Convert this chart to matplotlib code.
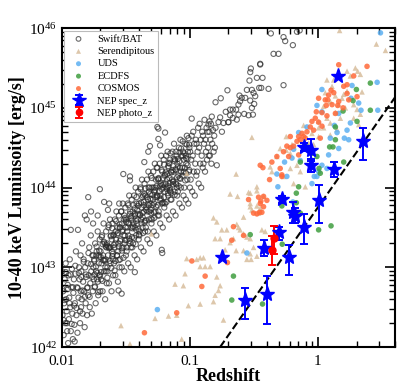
import numpy as np
import matplotlib
matplotlib.use('Agg')
import matplotlib.pyplot as plt
from matplotlib.ticker import LogLocator, NullFormatter

plt.rcParams['font.family'] = ['Liberation Serif', 'DejaVu Serif']
plt.rcParams['mathtext.fontset'] = 'stix'

# Swift/BAT sample, (log10 z, log10 L)
swift_bat = [
    (-1.998, 42.95), (-1.995, 42.4), (-1.99, 42.7), (-1.986, 42.15), (-1.982, 42.55), (-1.978, 42.85),
    (-1.973, 42.3), (-1.97, 43.05), (-1.966, 42.6), (-1.962, 42.45), (-1.958, 42.2), (-1.954, 42.78),
    (-1.951, 42.05), (-1.948, 42.9), (-1.945, 42.35), (-1.942, 42.62), (-1.938, 43.1), (-1.934, 42.5),
    (-1.93, 42.2), (-1.93, 43.47), (-1.926, 42.75), (-1.922, 42.98), (-1.918, 42.42), (-1.914, 42.1),
    (-1.91, 42.68), (-1.906, 42.85), (-1.902, 42.28), (-1.9, 42.07), (-1.898, 42.55), (-1.894, 42.92),
    (-1.89, 43.2), (-1.886, 42.4), (-1.882, 42.75), (-1.878, 42.18), (-1.874, 43.47), (-1.87, 42.62),
    (-1.866, 43.0), (-1.862, 42.85), (-1.858, 42.3), (-1.854, 43.15), (-1.85, 42.5), (-1.852, 42.7),
    (-1.848, 42.95), (-1.845, 42.6), (-1.842, 43.3), (-1.838, 42.42), (-1.834, 42.82), (-1.83, 43.1),
    (-1.826, 42.7), (-1.822, 42.25), (-1.818, 43.0), (-1.814, 42.55), (-1.81, 42.88), (-1.806, 43.6),
    (-1.803, 42.4), (-1.8, 42.75), (-1.794, 43.88), (-1.82, 43.65), (-1.798, 43.05), (-1.794, 42.65),
    (-1.79, 42.9), (-1.786, 43.25), (-1.782, 42.5), (-1.778, 42.8), (-1.774, 43.4), (-1.77, 42.95),
    (-1.766, 42.42), (-1.762, 43.15), (-1.758, 42.7), (-1.754, 43.0), (-1.75, 42.85), (-1.756, 43.55),
    (-1.772, 43.7), (-1.748, 43.1), (-1.744, 42.75), (-1.74, 43.3), (-1.736, 42.55), (-1.732, 42.95),
    (-1.728, 43.2), (-1.724, 42.85), (-1.72, 43.45), (-1.716, 42.65), (-1.712, 43.05), (-1.708, 42.9),
    (-1.704, 43.35), (-1.703, 43.98), (-1.7, 42.7), (-1.72, 43.65), (-1.71, 43.15), (-1.698, 43.2),
    (-1.694, 42.85), (-1.69, 43.05), (-1.686, 43.4), (-1.682, 42.7), (-1.678, 43.15), (-1.674, 43.55),
    (-1.67, 42.95), (-1.666, 43.3), (-1.662, 42.6), (-1.658, 43.1), (-1.654, 43.45), (-1.65, 42.8),
    (-1.67, 43.82), (-1.66, 43.0), (-1.652, 43.25), (-1.648, 43.3), (-1.644, 42.95), (-1.64, 43.15),
    (-1.636, 43.5), (-1.632, 42.8), (-1.628, 43.25), (-1.624, 43.6), (-1.62, 43.05), (-1.616, 43.4),
    (-1.612, 42.7), (-1.608, 43.2), (-1.604, 43.55), (-1.6, 42.9), (-1.63, 43.8), (-1.61, 43.35),
    (-1.602, 43.1), (-1.64, 43.72), (-1.598, 43.4), (-1.594, 43.05), (-1.59, 43.25), (-1.586, 43.6),
    (-1.582, 42.9), (-1.578, 43.35), (-1.574, 43.7), (-1.57, 43.15), (-1.566, 43.5), (-1.562, 42.82),
    (-1.558, 43.3), (-1.557, 42.71), (-1.554, 43.65), (-1.55, 43.0), (-1.58, 43.45), (-1.56, 43.2),
    (-1.552, 43.8), (-1.548, 43.5), (-1.544, 43.1), (-1.54, 43.35), (-1.536, 43.7), (-1.533, 42.67),
    (-1.532, 43.0), (-1.528, 43.45), (-1.524, 43.8), (-1.52, 43.25), (-1.52, 44.17), (-1.516, 43.6),
    (-1.512, 42.95), (-1.508, 43.4), (-1.504, 43.75), (-1.5, 43.15), (-1.53, 43.55), (-1.51, 43.3),
    (-1.502, 43.5), (-1.498, 43.6), (-1.494, 43.2), (-1.49, 43.45), (-1.486, 43.8), (-1.482, 43.05),
    (-1.478, 43.55), (-1.474, 43.9), (-1.47, 43.3), (-1.468, 44.14), (-1.468, 44.09), (-1.466, 43.7),
    (-1.462, 43.0), (-1.458, 43.5), (-1.454, 43.85), (-1.45, 43.25), (-1.48, 43.4), (-1.46, 43.62),
    (-1.452, 43.38), (-1.448, 43.7), (-1.444, 43.3), (-1.44, 43.55), (-1.436, 43.9), (-1.43, 42.94),
    (-1.432, 43.15), (-1.428, 43.65), (-1.424, 44.0), (-1.42, 43.4), (-1.416, 43.8), (-1.412, 43.1),
    (-1.408, 43.6), (-1.404, 43.95), (-1.4, 43.35), (-1.43, 43.5), (-1.41, 43.72), (-1.402, 43.48),
    (-1.42, 43.58), (-1.398, 43.8), (-1.394, 43.4), (-1.39, 43.65), (-1.386, 44.0), (-1.382, 43.25),
    (-1.378, 43.75), (-1.374, 44.1), (-1.37, 43.5), (-1.366, 43.9), (-1.362, 43.2), (-1.358, 43.7),
    (-1.356, 44.32), (-1.354, 44.05), (-1.35, 43.45), (-1.38, 43.6), (-1.36, 43.82), (-1.352, 43.58),
    (-1.37, 43.68), (-1.348, 43.9), (-1.344, 43.5), (-1.34, 43.75), (-1.336, 44.1), (-1.332, 43.35),
    (-1.328, 43.85), (-1.325, 44.45), (-1.324, 44.2), (-1.32, 43.6), (-1.316, 44.0), (-1.312, 44.52),
    (-1.312, 43.3), (-1.308, 43.8), (-1.304, 44.15), (-1.3, 43.55), (-1.33, 43.7), (-1.31, 43.92),
    (-1.302, 43.68), (-1.32, 43.78), (-1.298, 44.0), (-1.294, 43.6), (-1.29, 43.85), (-1.286, 44.2),
    (-1.282, 43.45), (-1.278, 43.95), (-1.274, 44.3), (-1.27, 43.7), (-1.266, 44.1), (-1.262, 43.4),
    (-1.258, 43.9), (-1.254, 44.76), (-1.254, 44.25), (-1.25, 43.65), (-1.28, 43.8), (-1.26, 44.02),
    (-1.252, 43.78), (-1.27, 43.88), (-1.248, 44.1), (-1.246, 44.74), (-1.246, 44.61), (-1.244, 43.7),
    (-1.24, 43.95), (-1.236, 44.3), (-1.233, 44.53), (-1.232, 43.55), (-1.228, 44.05), (-1.224, 44.4),
    (-1.22, 43.22), (-1.22, 43.8), (-1.216, 43.18), (-1.216, 44.2), (-1.212, 43.5), (-1.208, 44.0),
    (-1.204, 44.35), (-1.2, 43.75), (-1.23, 43.9), (-1.21, 44.12), (-1.202, 43.88), (-1.22, 43.98),
    (-1.198, 44.15), (-1.194, 44.69), (-1.194, 43.8), (-1.19, 44.05), (-1.186, 44.4), (-1.182, 43.65),
    (-1.178, 44.1), (-1.174, 44.45), (-1.17, 43.9), (-1.166, 44.25), (-1.16, 44.3), (-1.162, 43.6),
    (-1.158, 44.0), (-1.154, 44.35), (-1.15, 43.85), (-1.18, 43.98), (-1.16, 44.12), (-1.152, 43.95),
    (-1.17, 44.02), (-1.148, 44.2), (-1.144, 43.85), (-1.14, 44.1), (-1.136, 44.45), (-1.132, 43.7),
    (-1.128, 44.2), (-1.124, 44.55), (-1.12, 43.95), (-1.116, 44.35), (-1.112, 43.65), (-1.108, 44.05),
    (-1.104, 44.4), (-1.1, 43.9), (-1.13, 44.08), (-1.11, 44.22), (-1.102, 44.0), (-1.098, 44.3),
    (-1.094, 43.95), (-1.09, 44.15), (-1.086, 44.5), (-1.082, 43.8), (-1.078, 44.25), (-1.074, 44.6),
    (-1.07, 44.0), (-1.066, 44.4), (-1.062, 43.75), (-1.058, 44.15), (-1.054, 44.45), (-1.05, 43.9),
    (-1.08, 44.12), (-1.048, 44.35), (-1.044, 44.0), (-1.04, 44.25), (-1.036, 44.55), (-1.032, 43.85),
    (-1.028, 44.3), (-1.024, 44.65), (-1.02, 44.1), (-1.016, 44.45), (-1.012, 43.8), (-1.008, 44.2),
    (-1.004, 44.5), (-1.0, 44.0), (-1.03, 44.18), (-0.998, 44.45), (-0.994, 44.1), (-0.99, 44.35),
    (-0.986, 44.865), (-0.986, 44.65), (-0.982, 43.95), (-0.978, 44.4), (-0.974, 44.7), (-0.97, 44.2),
    (-0.966, 44.55), (-0.962, 43.9), (-0.958, 44.3), (-0.954, 44.6), (-0.95, 44.15), (-0.948, 44.55),
    (-0.944, 44.2), (-0.94, 44.45), (-0.936, 44.75), (-0.932, 44.05), (-0.928, 44.5), (-0.924, 44.8),
    (-0.92, 44.3), (-0.916, 44.6), (-0.912, 44.0), (-0.908, 44.4), (-0.904, 44.7), (-0.9, 44.25),
    (-0.898, 44.65), (-0.894, 44.3), (-0.89, 44.55), (-0.886, 44.85), (-0.882, 44.2), (-0.878, 44.6),
    (-0.874, 44.45), (-0.87, 44.75), (-0.866, 44.35), (-0.862, 44.7), (-0.858, 44.5), (-0.855, 44.79),
    (-0.852, 44.4), (-0.847, 44.83), (-0.848, 44.7), (-0.844, 44.4), (-0.84, 44.6), (-0.836, 44.8),
    (-0.832, 44.3), (-0.829, 44.89), (-0.826, 44.55), (-0.82, 44.72), (-0.815, 44.45), (-0.81, 44.65),
    (-0.805, 44.5), (-0.8, 44.75), (-0.8, 45.07), (-0.79, 44.28), (-0.777, 44.82), (-0.764, 44.88),
    (-0.759, 45.12), (-0.75, 44.7), (-0.738, 44.81), (-0.72, 44.95), (-0.707, 45.22), (-0.7, 44.82),
    (-0.699, 44.82), (-0.686, 44.978), (-0.665, 44.978), (-0.639, 44.978), (-0.516, 44.999),
    (-0.508, 44.915), (-0.686, 44.907), (-0.621, 44.915), (-0.576, 44.924), (-0.542, 44.907),
    (-0.665, 44.873), (-0.634, 44.852), (-0.613, 45.154), (-0.595, 45.125), (-0.608, 45.083),
    (-0.568, 45.125), (-0.49, 45.146), (-0.621, 45.041), (-0.529, 45.091), (-0.498, 45.049),
    (-0.555, 45.225), (-0.516, 45.225), (-0.503, 45.187), (-0.459, 45.25), (-0.443, 45.25),
    (-0.386, 45.238), (-0.535, 45.342), (-0.477, 45.376), (-0.433, 45.376), (-0.529, 45.447),
    (-0.524, 45.493), (-0.451, 45.552), (-0.451, 45.543), (-0.347, 45.677), (-0.308, 45.677),
    (-0.269, 45.284), (-0.368, 45.933), (-0.269, 45.887), (-0.256, 45.837), (-0.196, 45.786),
    (-0.164, 45.954), (-0.143, 45.971),
    # denser core of the band
    (-1.747, 43.08), (-1.741, 42.76), (-1.733, 43.01), (-1.728, 43.26), (-1.722, 42.93), (-1.715, 42.69),
    (-1.709, 43.21), (-1.702, 42.90), (-1.696, 43.13), (-1.689, 43.38), (-1.683, 42.83), (-1.677, 43.09),
    (-1.671, 43.32), (-1.664, 43.08), (-1.658, 42.95), (-1.651, 43.28), (-1.645, 42.87), (-1.639, 43.26),
    (-1.633, 43.53), (-1.626, 43.08), (-1.62, 43.25), (-1.614, 42.99), (-1.607, 43.49), (-1.601, 43.17),
    (-1.595, 43.41), (-1.588, 42.96), (-1.582, 43.30), (-1.576, 43.58), (-1.569, 43.15), (-1.563, 43.43),
    (-1.556, 43.09), (-1.55, 43.54), (-1.544, 43.33), (-1.537, 43.70), (-1.531, 43.21), (-1.525, 43.47),
    (-1.518, 43.12), (-1.512, 43.65), (-1.506, 43.34), (-1.499, 43.57), (-1.493, 43.25), (-1.487, 43.50),
    (-1.48, 43.78), (-1.474, 43.36), (-1.468, 43.67), (-1.461, 43.25), (-1.455, 43.59), (-1.449, 43.49),
    (-1.442, 43.78), (-1.436, 43.37), (-1.43, 43.67), (-1.423, 43.29), (-1.417, 43.88), (-1.411, 43.55),
    (-1.404, 43.77), (-1.398, 43.41), (-1.392, 43.66), (-1.385, 43.98), (-1.379, 43.55), (-1.373, 43.88),
    (-1.366, 43.43), (-1.36, 43.78), (-1.354, 43.56), (-1.347, 43.99), (-1.341, 43.72), (-1.335, 43.88),
    (-1.328, 43.45), (-1.322, 44.00), (-1.316, 43.70), (-1.309, 43.86), (-1.303, 43.61), (-1.297, 44.12),
    (-1.29, 43.78), (-1.284, 44.00), (-1.278, 43.62), (-1.271, 43.97), (-1.265, 43.76), (-1.259, 44.25),
    (-1.252, 43.90), (-1.246, 44.11), (-1.24, 43.65), (-1.233, 44.02), (-1.227, 43.86), (-1.221, 44.22),
    (-1.214, 43.81), (-1.208, 44.04), (-1.202, 44.29), (-1.195, 43.95), (-1.189, 44.19), (-1.183, 43.82),
    (-1.176, 44.17), (-1.17, 43.93), (-1.164, 44.31), (-1.157, 44.06), (-1.151, 44.43), (-1.145, 43.93),
    (-1.138, 44.22), (-1.132, 44.04), (-1.126, 44.36), (-1.119, 43.91), (-1.113, 44.23), (-1.107, 44.45),
    (-1.1, 44.13), (-1.094, 44.36), (-1.088, 44.02), (-1.081, 44.33), (-1.075, 44.11), (-1.069, 44.49),
    (-1.062, 44.25), (-1.056, 44.58), (-1.05, 44.19), (-1.043, 44.43), (-1.037, 44.09), (-1.031, 44.37),
    (-1.024, 44.54), (-1.018, 44.28), (-1.011, 44.62), (-1.005, 44.22),
    (-1.744, 42.91), (-1.731, 43.15), (-1.719, 42.82), (-1.706, 43.13), (-1.694, 42.94), (-1.681, 43.29),
    (-1.669, 43.09), (-1.656, 43.26), (-1.644, 43.00), (-1.631, 43.24), (-1.619, 43.39), (-1.606, 43.14),
    (-1.594, 43.28), (-1.581, 43.08), (-1.569, 43.41), (-1.556, 43.26), (-1.544, 43.50), (-1.531, 43.24),
    (-1.519, 43.40), (-1.506, 43.62), (-1.494, 43.34), (-1.481, 43.56), (-1.469, 43.33), (-1.456, 43.64),
    (-1.444, 43.51), (-1.431, 43.74), (-1.419, 43.47), (-1.406, 43.67), (-1.394, 43.45), (-1.381, 43.81),
    (-1.369, 43.63), (-1.356, 43.92), (-1.344, 43.59), (-1.331, 43.79), (-1.319, 43.95), (-1.306, 43.72),
    (-1.294, 43.91), (-1.281, 43.69), (-1.269, 44.00), (-1.256, 43.88), (-1.244, 44.12), (-1.231, 43.84),
    (-1.219, 44.03), (-1.206, 43.81), (-1.194, 44.16), (-1.181, 44.00), (-1.169, 44.27), (-1.156, 43.97),
    (-1.144, 44.19), (-1.131, 44.07), (-1.119, 44.33), (-1.106, 44.04), (-1.094, 44.26), (-1.081, 44.44),
    (-1.069, 44.20), (-1.056, 44.40), (-1.044, 44.20), (-1.031, 44.40), (-1.019, 44.36), (-1.006, 44.54),
    (-1.996, 42.73), (-1.988, 42.34), (-1.979, 42.59), (-1.969, 42.94), (-1.96, 42.30), (-1.951, 42.73),
    (-1.941, 42.55), (-1.932, 42.91), (-1.923, 42.29), (-1.913, 42.75), (-1.904, 42.52), (-1.895, 43.02),
    (-1.885, 42.49), (-1.876, 42.74), (-1.867, 42.93), (-1.857, 42.45), (-1.848, 42.88), (-1.839, 42.71),
    (-1.829, 43.07), (-1.82, 42.63), (-1.811, 42.91), (-1.801, 42.74), (-1.792, 43.18), (-1.783, 42.63),
    (-1.773, 43.04), (-1.764, 42.88), (-1.755, 43.15),
]

# serendipitous sources (tan triangles)
serendip = [
    (0.169, 45.97), (0.456, 45.80), (0.527, 45.72), (0.292, 45.50), (0.310, 45.46), (0.227, 45.46),
    (0.331, 45.42), (0.253, 45.40), (0.070, 45.35), (0.110, 45.27), (0.057, 45.19), (0.136, 45.15),
    (0.201, 45.17), (0.227, 45.21), (0.188, 45.12), (0.096, 45.08), (0.044, 45.02), (0.162, 45.04),
    (0.253, 45.12), (0.279, 45.04), (0.305, 44.98), (0.214, 45.00), (0.136, 44.94), (0.070, 44.87),
    (0.175, 44.87), (0.096, 44.81), (0.044, 44.75), (0.149, 44.73), (0.096, 44.66), (0.005, 44.64),
    (-0.112, 44.58), (-0.073, 44.56), (-0.034, 44.54), (-0.248, 44.64), (-0.203, 44.54), (-0.248, 44.47),
    (-0.321, 44.39), (0.005, 44.83), (0.005, 44.75), (-0.112, 44.78), (-0.047, 44.68), (0.331, 44.92),
    (0.279, 44.87), (0.318, 44.79), (-0.516, 44.63), (-0.295, 44.49), (-0.216, 44.43), (-0.373, 44.26),
    (-0.360, 44.20), (-0.216, 44.24), (-0.164, 44.28), (-0.138, 44.20), (-0.269, 44.14), (-0.190, 44.05),
    (-0.099, 44.01), (-0.477, 44.01), (-0.529, 43.93), (-0.425, 43.89), (-0.529, 43.76), (-0.581, 43.63),
    (-0.639, 44.17), (-0.686, 43.92), (-0.628, 43.89), (-0.542, 43.94), (-0.477, 43.96), (-0.529, 43.80),
    (-0.816, 43.62), (-0.751, 43.47), (-0.764, 43.36), (-0.790, 43.57), (-0.634, 43.54), (-0.621, 43.50),
    (-0.608, 43.47), (-0.712, 43.47), (-0.803, 43.36), (-0.660, 43.36), (-0.686, 43.31), (-0.725, 43.22),
    (-0.639, 43.21), (-0.581, 43.21), (-0.555, 43.10), (-0.522, 43.10), (-0.503, 43.25), (-0.529, 43.17),
    (-0.477, 43.14), (-0.920, 43.12), (-0.894, 43.12), (-0.947, 43.10), (-1.025, 43.11), (-0.920, 43.01),
    (-0.881, 43.01), (-0.842, 43.01), (-1.038, 42.92), (-1.116, 42.79), (-1.051, 42.77), (-0.790, 42.88),
    (-0.764, 42.77), (-0.777, 42.71), (-0.803, 42.65), (-0.816, 42.57), (-1.012, 42.52), (-0.920, 42.54),
    (-1.167, 42.39), (-1.103, 42.40), (-1.064, 42.10), (-1.272, 42.36), (-0.477, 43.77), (-0.438, 43.47),
    (-0.412, 43.45), (-0.555, 43.38), (-0.529, 43.36), (-0.581, 43.42), (-0.516, 43.72), (-0.464, 43.68),
    (-0.451, 43.74), (-1.538, 42.27), (-1.468, 42.04), (-0.738, 42.34), (-1.301, 43.42), (-1.025, 44.18),
    (0.123, 45.35), (0.344, 45.20),
]

uds = [
    (0.266, 45.28), (0.031, 45.23), (-0.008, 45.03), (0.031, 44.95), (0.162, 44.93), (0.258, 45.12),
    (0.318, 45.06), (0.336, 44.97), (0.462, 45.32), (0.467, 44.97), (0.128, 44.78), (0.149, 44.69),
    (0.206, 44.62), (0.240, 44.60), (-0.151, 44.69), (-0.086, 44.76), (-0.321, 44.17), (-0.313, 44.01),
    (-0.243, 44.14), (-0.029, 44.14), (-0.008, 44.14), (0.005, 44.20), (-0.047, 44.05), (0.083, 44.41),
    (0.162, 44.49), (-0.261, 44.32), (-0.203, 44.37), (0.031, 44.28), (0.070, 44.24), (0.096, 44.62),
    (0.488, 45.94), (-0.555, 43.18), (-1.254, 42.47), (-0.190, 44.48), (-0.138, 44.34), (0.227, 44.72),
    (0.253, 44.81), (-0.196, 43.82),
]

ecdfs = [
    (0.409, 45.31), (0.300, 45.23), (0.409, 44.97), (0.274, 45.09), (0.196, 44.96), (0.136, 44.60),
    (0.091, 44.51), (0.117, 44.51), (0.201, 44.32), (-0.008, 44.39), (-0.138, 44.32), (0.008, 44.24),
    (0.018, 44.18), (-0.151, 44.01), (-0.169, 43.93), (-0.169, 43.81), (-0.282, 43.77), (-0.138, 43.68),
    (-0.529, 43.41), (-0.279, 43.29), (0.102, 43.52), (0.005, 43.47), (-0.660, 42.89), (-0.673, 42.59),
    (-0.433, 42.54), (0.305, 44.83), (-0.086, 44.51), (-0.047, 44.43), (0.136, 44.76),
]

cosmos = [
    (0.162, 45.54), (0.383, 45.52), (0.102, 45.22), (0.005, 45.12), (0.076, 45.10), (0.065, 45.03),
    (0.110, 45.04), (0.154, 45.03), (0.196, 45.00), (0.031, 44.94), (-0.021, 44.87), (0.005, 44.82),
    (-0.060, 44.76), (-0.125, 44.68), (-0.151, 44.64), (-0.099, 44.62), (-0.190, 44.52), (-0.451, 44.28),
    (0.279, 45.40), (0.227, 45.18), (0.123, 45.19), (0.162, 45.08), (0.057, 45.10), (-0.013, 44.95),
    (0.070, 44.90), (0.031, 44.77), (-0.034, 44.72), (-0.112, 44.64), (-0.138, 44.60), (-0.164, 44.58),
    (-0.243, 44.52), (-0.151, 44.41), (-0.321, 44.39), (-0.430, 44.25), (-0.295, 44.24), (-0.282, 44.14),
    (-0.464, 43.88), (-0.446, 43.83), (-0.425, 43.76), (-0.456, 43.69), (-0.425, 43.89), (-0.451, 43.80),
    (-0.438, 43.69), (-0.477, 43.67), (-0.581, 43.40), (-0.660, 43.51), (-0.673, 43.34), (-0.707, 43.06),
    (-0.881, 42.89), (-0.907, 42.76), (-0.985, 43.08), (-1.103, 42.43), (-1.355, 42.18), (-0.282, 44.16),
    (-0.378, 44.10), (0.201, 45.27), (0.305, 45.14), (0.240, 45.10), (0.136, 44.93), (0.018, 44.62),
    (-0.216, 44.50), (-0.229, 44.39), (0.227, 45.29), (0.083, 45.16), (-0.047, 44.83), (-0.086, 44.70),
    (-0.216, 44.64), (-0.269, 44.45), (-0.360, 44.32), (-0.503, 43.68), (-0.542, 43.85), (-0.399, 43.84),
]

# NEP sources: redshift, log L and the ends of the error bars
nep_spec_z = [0.179, 0.270, 0.399, 0.376, 0.492, 0.597, 0.522, 0.637, 0.660, 0.773, 1.01, 0.773, 0.887, 0.887, 1.33, 2.25, 1.43]
nep_spec_logL = [43.13, 42.586, 42.67, 43.248, 43.437, 43.13, 43.851, 43.688, 43.642, 43.508, 43.843, 44.513, 44.471, 44.283, 44.228, 44.584, 45.393]
nep_spec_hi = [43.13, 42.746, 42.888, 43.349, 43.508, 43.277, 43.89, 43.82, 43.75, 43.663, 44.03, 44.56, 44.605, 44.36, 44.325, 44.752, 45.393]
nep_spec_lo = [43.13, 42.356, 42.285, 43.139, 43.349, 42.9, 43.81, 43.56, 43.55, 43.29, 43.558, 44.46, 44.33, 44.2, 44.136, 44.346, 45.393]

nep_photo_z = [0.436, 0.455]
nep_photo_logL = [43.215, 43.37]
nep_photo_hi = [43.39, 43.52]
nep_photo_lo = [43.03, 43.17]

# flux limit line
limit_z = [0.172, 4.03]
limit_logL = [42.0, 45.14]


def unpack(pairs):
    a = np.array(pairs)
    return 10 ** a[:, 0], 10 ** a[:, 1]


fig = plt.figure(figsize=(4.15, 3.9), dpi=100)
ax = fig.add_axes([0.149, 0.110, 0.803, 0.818])

x, y = unpack(swift_bat)
ax.scatter(x, y, s=14, facecolors='none', edgecolors='#2a2a2a', linewidths=0.8, alpha=0.7,
           label='Swift/BAT', zorder=2)
x, y = unpack(serendip)
ax.scatter(x, y, s=16, marker='^', color='#d7bd9c', edgecolors='none', alpha=0.85,
           label='Serendipitous', zorder=2)
x, y = unpack(uds)
ax.scatter(x, y, s=16, color='#5cb0f2', edgecolors='none', alpha=0.85, label='UDS', zorder=3)
x, y = unpack(ecdfs)
ax.scatter(x, y, s=16, color='#3f9e3f', edgecolors='none', alpha=0.85, label='ECDFS', zorder=3)
x, y = unpack(cosmos)
ax.scatter(x, y, s=16, color='#ff6a3a', edgecolors='none', alpha=0.85, label='COSMOS', zorder=3)

L = 10 ** np.array(nep_spec_logL)
yerr = [L - 10 ** np.array(nep_spec_lo), 10 ** np.array(nep_spec_hi) - L]
ax.errorbar(nep_spec_z, L, yerr=yerr, fmt='*', color='blue', ms=11, elinewidth=1.4,
            capsize=3, capthick=1.4, label='NEP spec_z', zorder=5)
L = 10 ** np.array(nep_photo_logL)
yerr = [L - 10 ** np.array(nep_photo_lo), 10 ** np.array(nep_photo_hi) - L]
ax.errorbar(nep_photo_z, L, yerr=yerr, fmt='o', color='red', ms=5, elinewidth=1.4,
            capsize=3, capthick=1.4, label='NEP photo_z', zorder=5)

ax.plot(limit_z, 10 ** np.array(limit_logL), 'k--', lw=1.5, zorder=4)

ax.set_xscale('log')
ax.set_yscale('log')
ax.set_xlim(0.01, 4.0)
ax.set_ylim(1e42, 1e46)
ax.set_xticks([0.01, 0.1, 1])
ax.set_xticklabels(['0.01', '0.1', '1'])
ax.yaxis.set_minor_locator(LogLocator(base=10, subs=np.arange(2, 10)))
ax.yaxis.set_minor_formatter(NullFormatter())
ax.xaxis.set_minor_formatter(NullFormatter())
ax.tick_params(which='both', direction='in', top=True, right=True, labelsize=11)
ax.tick_params(which='major', length=7, width=1.2)
ax.tick_params(which='minor', length=4, width=1.0)
ax.tick_params(axis='x', which='major', pad=6)
for s in ax.spines.values():
    s.set_linewidth(1.5)

ax.set_xlabel('Redshift', fontsize=13, fontweight='bold', labelpad=0)
ax.set_ylabel('10-40 keV Luminsoity [erg/s]', fontsize=13, fontweight='bold', labelpad=2)

leg = ax.legend(loc='upper left', fontsize=7.5, fancybox=False, edgecolor='#bbbbbb',
                framealpha=1, handlelength=2.0, labelspacing=0.3, borderpad=0.35,
                handletextpad=0.8, borderaxespad=0.25, markerscale=0.9)
leg.get_frame().set_linewidth(0.8)

fig.savefig('out.png', dpi=100)
